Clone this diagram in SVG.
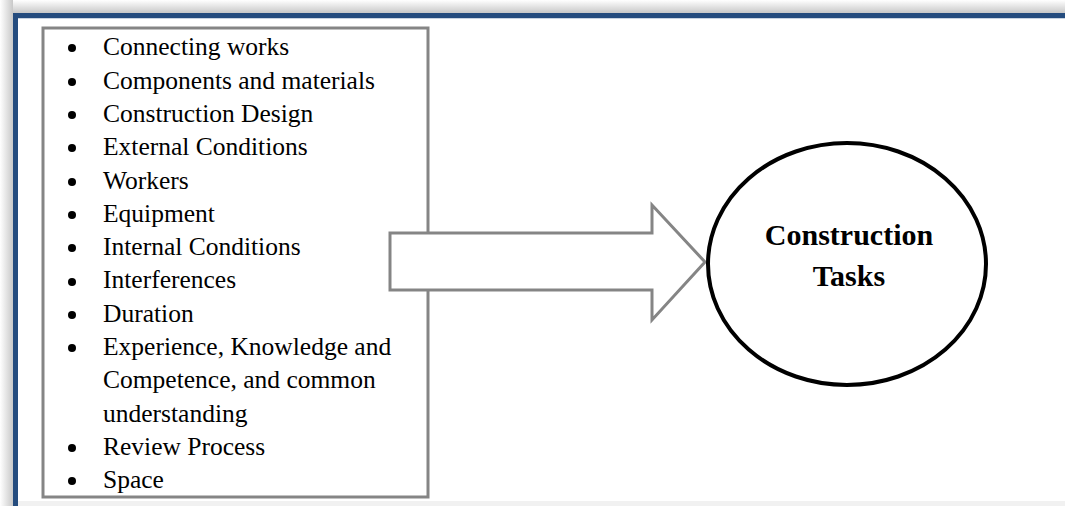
<svg xmlns="http://www.w3.org/2000/svg" width="1065" height="506" viewBox="0 0 1065 506">
<defs>
<linearGradient id="shTop" x1="0" y1="0" x2="0" y2="1">
<stop offset="0" stop-color="#ffffff"/>
<stop offset="1" stop-color="#c8c8c8"/>
</linearGradient>
<linearGradient id="shLeft" x1="0" y1="0" x2="1" y2="0">
<stop offset="0" stop-color="#ffffff"/>
<stop offset="1" stop-color="#c8c8c8"/>
</linearGradient>
</defs>
<style>
.item{font-family:"Liberation Serif","Times New Roman",serif;font-size:25.5px;fill:#000}
.title{font-family:"Liberation Serif","Times New Roman",serif;font-size:30px;font-weight:bold;fill:#000;text-anchor:middle}
.bul{fill:#000}
</style>
<rect x="0" y="0" width="1065" height="506" fill="#ffffff"/>
<g id="frame">
<rect x="0" y="0" width="1065" height="13" fill="url(#shTop)"/>
<rect x="0" y="0" width="13" height="506" fill="url(#shLeft)"/>
<rect x="13" y="13" width="1052" height="5" fill="#254c7e"/>
<rect x="13" y="13" width="5" height="493" fill="#254c7e"/>
<rect x="18" y="18" width="1047" height="1" fill="#c9d3e0"/>
<rect x="18" y="501" width="1047" height="5" fill="#f1f1f1"/>
</g>
<g id="factors">
<rect x="43" y="28" width="385" height="469" fill="#ffffff" stroke="#858585" stroke-width="3"/>
<g class="bul">
<circle cx="72" cy="48" r="4"/>
<circle cx="72" cy="82" r="4"/>
<circle cx="72" cy="115" r="4"/>
<circle cx="72" cy="148" r="4"/>
<circle cx="72" cy="182" r="4"/>
<circle cx="72" cy="215" r="4"/>
<circle cx="72" cy="248" r="4"/>
<circle cx="72" cy="282" r="4"/>
<circle cx="72" cy="315" r="4"/>
<circle cx="72" cy="348" r="4"/>
<circle cx="72" cy="448" r="4"/>
<circle cx="72" cy="481" r="4"/>
</g>
<text class="item" x="103" y="55">Connecting works</text>
<text class="item" x="103" y="88.5">Components and materials</text>
<text class="item" x="103" y="121.5">Construction Design</text>
<text class="item" x="103" y="155">External Conditions</text>
<text class="item" x="103" y="188.5">Workers</text>
<text class="item" x="103" y="221.5">Equipment</text>
<text class="item" x="103" y="255">Internal Conditions</text>
<text class="item" x="103" y="288">Interferences</text>
<text class="item" x="103" y="321.5">Duration</text>
<text class="item" x="103" y="355">Experience, Knowledge and</text>
<text class="item" x="103" y="388">Competence, and common</text>
<text class="item" x="103" y="421.5">understanding</text>
<text class="item" x="103" y="455">Review Process</text>
<text class="item" x="103" y="488">Space</text>
</g>
<g id="connectors">
<polygon points="390,233 652,233 652,205 705,262 652,320 652,290 390,290" fill="#ffffff" stroke="#858585" stroke-width="3"/>
</g>
<g id="tasks">
<ellipse cx="847" cy="264" rx="139" ry="121" fill="#ffffff" stroke="#000000" stroke-width="4"/>
<text class="title" x="849" y="245">Construction</text>
<text class="title" x="849" y="286">Tasks</text>
</g>
</svg>
